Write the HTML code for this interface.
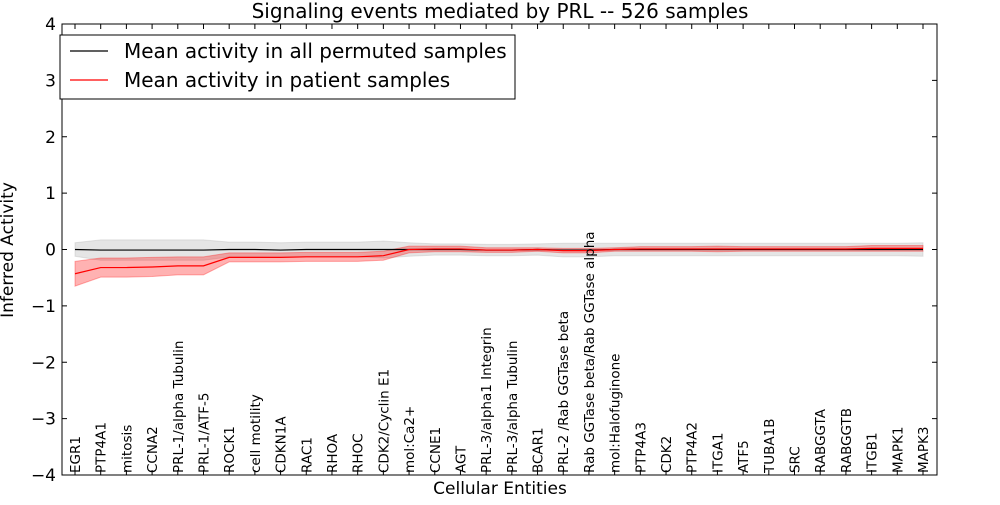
<!DOCTYPE html>
<html><head><meta charset="utf-8"><style>
body{margin:0;background:#fff}
</style></head><body>
<svg id="c" width="1000" height="500" xmlns="http://www.w3.org/2000/svg" font-family="DejaVu Sans, sans-serif"></svg>
<script>
const categories=["EGR1","PTP4A1","mitosis","CCNA2","PRL-1/alpha Tubulin","PRL-1/ATF-5","ROCK1","cell motility","CDKN1A","RAC1","RHOA","RHOC","CDK2/Cyclin E1","mol:Ca2+","CCNE1","AGT","PRL-3/alpha1 Integrin","PRL-3/alpha Tubulin","BCAR1","PRL-2 /Rab GGTase beta","Rab GGTase beta/Rab GGTase alpha","mol:Halofuginone","PTP4A3","CDK2","PTP4A2","ITGA1","ATF5","TUBA1B","SRC","RABGGTA","RABGGTB","ITGB1","MAPK1","MAPK3"];
const patientMean=[-0.43,-0.32,-0.32,-0.31,-0.29,-0.29,-0.14,-0.14,-0.14,-0.13,-0.13,-0.13,-0.11,0,0.01,0.01,-0.01,-0.01,0,-0.02,-0.02,0,0.01,0.01,0.01,0.01,0.01,0.01,0.01,0.01,0.01,0.02,0.02,0.02];
const patientSpread=[0.22,0.17,0.17,0.17,0.16,0.16,0.08,0.08,0.08,0.08,0.08,0.08,0.08,0.06,0.05,0.05,0.04,0.04,0.03,0.04,0.04,0.03,0.04,0.04,0.04,0.05,0.04,0.04,0.04,0.04,0.04,0.05,0.05,0.05];
const permMean=[0,-0.01,-0.01,-0.01,-0.01,-0.01,0,0,-0.01,0,0,0,0,0,0,0,-0.01,-0.01,0,-0.01,-0.01,0,0,0,0,0,0,0,0,0,0,0,0,0];
const permSpread=[0.12,0.18,0.18,0.18,0.18,0.18,0.13,0.13,0.13,0.13,0.13,0.13,0.15,0.12,0.1,0.1,0.1,0.1,0.1,0.12,0.12,0.11,0.11,0.11,0.11,0.11,0.11,0.11,0.11,0.11,0.11,0.11,0.11,0.12];
const yTicks=[-4,-3,-2,-1,0,1,2,3,4];
const L=62,R=937,T=24,B=475;
const sx=i=>75+i*(923-75)/33;
const sy=v=>T+(4-v)*(B-T)/8;
const svg=document.getElementById('c');const NS="http://www.w3.org/2000/svg";
function mk(t,a,p){const e=document.createElementNS(NS,t);for(const k in a)e.setAttribute(k,a[k]);(p||svg).appendChild(e);return e;}
function band(m,s,fill,op,name){
 let pts=m.map((v,i)=>sx(i)+","+sy(v+s[i]));
 for(let i=m.length-1;i>=0;i--)pts.push(sx(i)+","+sy(m[i]-s[i]));
 const e=mk('polygon',{points:pts.join(' '),fill:fill,'fill-opacity':op,stroke:fill,'stroke-opacity':op});
 
 
}
function line(m,col,name){
 const e=mk('polyline',{points:m.map((v,i)=>sx(i)+","+sy(v)).join(' '),fill:'none',stroke:col,'stroke-width':1.2});
 
 
}
band(permMean,permSpread,'#aaaaaa',0.3,'permuted-band');
band(patientMean,patientSpread,'#ff0000',0.3,'patient-band');
line(permMean,'#000','permuted-mean-line');
line(patientMean,'#ff0000','patient-mean-line');
const fr=mk('rect',{x:L,y:T,width:R-L,height:B-T,fill:'none',stroke:'#000'});

yTicks.forEach(v=>{
 const y=sy(v);
 mk('line',{x1:L,x2:L+5,y1:y,y2:y,stroke:'#000'});mk('line',{x1:R,x2:R-5,y1:y,y2:y,stroke:'#000'});
 const t=mk('text',{x:L-6,y:y+6,'text-anchor':'end','font-size':17});
 t.textContent=(v<0?"\u2212"+(-v):v);
 
});
categories.forEach((c,i)=>{
 const x=sx(i);
 mk('line',{x1:x,x2:x,y1:B,y2:B-5,stroke:'#000'});mk('line',{x1:x,x2:x,y1:T,y2:T+5,stroke:'#000'});
 const t=mk('text',{x:x+5,y:B-2,'font-size':13.5,transform:`rotate(-90 ${x+5} ${B-2})`});
 t.textContent=c;
 
});
let t=mk('text',{x:500,y:18,'text-anchor':'middle','font-size':20});t.textContent="Signaling events mediated by PRL -- 526 samples";

t=mk('text',{x:500,y:494,'text-anchor':'middle','font-size':17});t.textContent="Cellular Entities";

t=mk('text',{x:13,y:250,'text-anchor':'middle','font-size':17,transform:'rotate(-90 13 250)'});t.textContent="Inferred Activity";

const lg=mk('g',{});
mk('rect',{x:60,y:35,width:455,height:64,fill:'#fff',stroke:'#000'},lg);
mk('line',{x1:70,x2:108,y1:51,y2:51,stroke:'#000','stroke-width':1.2},lg);
mk('line',{x1:70,x2:108,y1:80,y2:80,stroke:'#f00','stroke-width':1.2},lg);
t=mk('text',{x:124,y:58,'font-size':20},lg);t.textContent="Mean activity in all permuted samples";

t=mk('text',{x:124,y:87,'font-size':20},lg);t.textContent="Mean activity in patient samples";

</script>
</body></html>
